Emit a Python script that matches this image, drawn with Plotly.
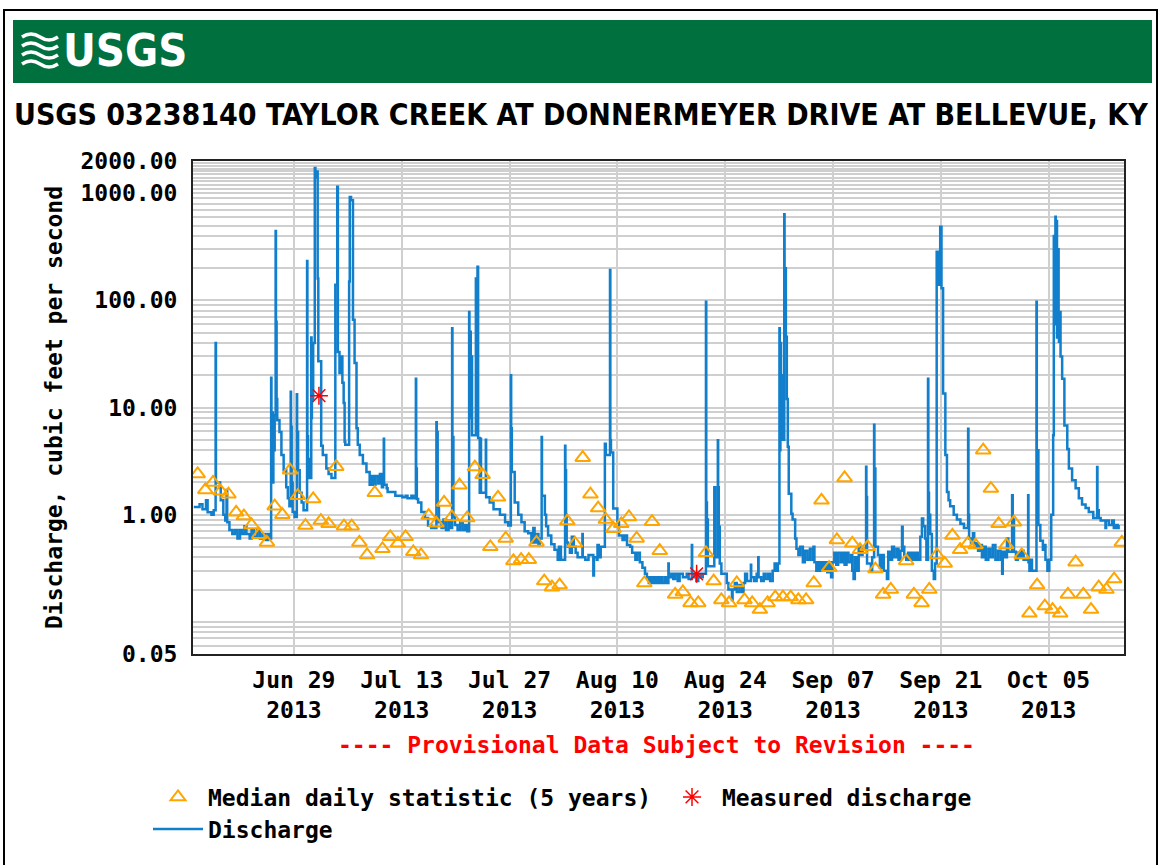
import plotly.graph_objects as go
import pandas as pd

YEAR = "2013"

# Instantaneous discharge, cubic feet per second (time "MM-DD HH:MM", value)
discharge_readings = [
    ("06-16 00:00", 1.18), ("06-16 18:00", 1.25), ("06-17 03:00", 1.12), ("06-17 14:00", 1.36),
    ("06-17 19:00", 1.05), ("06-18 07:00", 1.0), ("06-18 14:00", 1.1), ("06-18 20:00", 40.0),
    ("06-18 21:00", 2.0), ("06-19 10:00", 1.8), ("06-19 12:00", 1.36), ("06-19 20:00", 1.0),
    ("06-20 02:00", 0.88), ("06-20 06:00", 1.7), ("06-20 08:00", 0.85), ("06-20 15:00", 0.72),
    ("06-21 00:00", 0.66), ("06-21 08:00", 0.72), ("06-21 16:00", 0.6), ("06-22 00:00", 0.72),
    ("06-22 06:00", 0.66), ("06-22 14:00", 0.78), ("06-22 20:00", 0.66), ("06-23 06:00", 0.6),
    ("06-23 12:00", 0.72), ("06-23 20:00", 0.62), ("06-24 06:00", 0.72), ("06-24 14:00", 0.6),
    ("06-24 22:00", 0.66), ("06-25 08:00", 0.58), ("06-25 16:00", 0.66), ("06-25 22:00", 0.6),
    ("06-26 01:00", 19.0), ("06-26 02:00", 3.0), ("06-26 04:00", 9.0), ("06-26 06:00", 2.0),
    ("06-26 08:00", 7.0), ("06-26 10:00", 4.0), ("06-26 12:00", 8.5), ("06-26 15:00", 444.0),
    ("06-26 16:00", 63.0), ("06-26 18:00", 12.0), ("06-26 20:00", 7.6), ("06-27 03:00", 5.9),
    ("06-27 09:00", 3.6), ("06-27 16:00", 2.6), ("06-28 00:00", 1.8), ("06-28 05:00", 1.42),
    ("06-28 10:00", 1.2), ("06-28 14:00", 14.0), ("06-28 15:00", 6.6), ("06-28 17:00", 2.0),
    ("06-28 20:00", 1.06), ("06-29 02:00", 0.95), ("06-29 09:00", 13.3), ("06-29 10:00", 5.9),
    ("06-29 13:00", 2.6), ("06-29 18:00", 1.6), ("06-30 00:00", 1.3), ("06-30 06:00", 1.1),
    ("06-30 17:00", 233.0), ("06-30 18:00", 5.4), ("06-30 20:00", 3.3), ("06-30 23:00", 2.2),
    ("07-01 06:00", 45.0), ("07-01 07:00", 8.0), ("07-01 08:00", 31.0), ("07-01 10:00", 12.0),
    ("07-01 12:00", 40.0), ("07-01 17:00", 1720.0), ("07-01 19:00", 1400.0), ("07-01 21:00", 1600.0),
    ("07-02 02:00", 160.0), ("07-02 04:00", 27.0), ("07-02 13:00", 4.4), ("07-02 18:00", 3.6),
    ("07-03 05:00", 2.7), ("07-03 12:00", 2.4), ("07-03 21:00", 2.2), ("07-04 09:00", 140.0),
    ("07-04 15:00", 1150.0), ("07-04 17:00", 33.0), ("07-04 22:00", 21.0), ("07-05 00:00", 30.0),
    ("07-05 07:00", 17.0), ("07-05 11:00", 11.0), ("07-05 14:00", 4.8), ("07-05 16:00", 4.5),
    ("07-06 04:00", 150.0), ("07-06 06:00", 925.0), ("07-06 10:00", 860.0), ("07-06 16:00", 66.0),
    ("07-06 21:00", 26.0), ("07-07 03:00", 6.4), ("07-07 07:00", 4.5), ("07-07 13:00", 3.6),
    ("07-07 23:00", 3.0), ("07-08 10:00", 2.5), ("07-08 20:00", 1.9), ("07-09 02:00", 2.3),
    ("07-09 08:00", 1.9), ("07-09 14:00", 2.3), ("07-09 22:00", 1.95), ("07-10 04:00", 2.4),
    ("07-10 10:00", 1.8), ("07-10 14:00", 2.2), ("07-10 16:00", 5.1), ("07-10 17:00", 1.9),
    ("07-11 01:00", 1.76), ("07-11 04:00", 1.63), ("07-12 04:00", 1.5), ("07-13 02:00", 1.45),
    ("07-13 12:00", 1.5), ("07-13 18:00", 1.42), ("07-14 06:00", 1.5), ("07-14 12:00", 1.42),
    ("07-14 20:00", 18.6), ("07-14 21:00", 2.7), ("07-14 23:00", 1.4), ("07-15 03:00", 1.3),
    ("07-15 13:00", 1.06), ("07-16 00:00", 0.93), ("07-16 10:00", 0.79), ("07-16 20:00", 0.75),
    ("07-17 12:00", 7.3), ("07-17 13:00", 5.9), ("07-17 16:00", 1.2), ("07-17 20:00", 0.85),
    ("07-18 04:00", 0.75), ("07-18 10:00", 0.9), ("07-18 18:00", 0.72), ("07-19 02:00", 0.88),
    ("07-19 08:00", 0.75), ("07-19 13:00", 55.0), ("07-19 14:00", 5.3), ("07-19 17:00", 0.95),
    ("07-19 22:00", 0.8), ("07-20 06:00", 0.72), ("07-20 14:00", 0.85), ("07-20 22:00", 0.72),
    ("07-21 06:00", 0.8), ("07-21 12:00", 0.7), ("07-21 18:00", 78.0), ("07-21 19:00", 10.0),
    ("07-21 21:00", 51.0), ("07-21 23:00", 8.0), ("07-22 01:00", 30.0), ("07-22 03:00", 5.5),
    ("07-22 15:00", 160.0), ("07-22 17:00", 60.0), ("07-22 20:00", 206.0), ("07-22 22:00", 5.2),
    ("07-23 03:00", 1.6), ("07-23 05:00", 5.1), ("07-23 07:00", 1.6), ("07-23 22:00", 5.0),
    ("07-23 23:00", 1.45), ("07-24 10:00", 1.3), ("07-24 22:00", 1.12), ("07-25 18:00", 1.0),
    ("07-26 10:00", 0.85), ("07-26 20:00", 0.79), ("07-27 04:00", 20.0), ("07-27 05:00", 6.4),
    ("07-27 07:00", 2.5), ("07-27 16:00", 1.3), ("07-28 03:00", 1.0), ("07-28 13:00", 0.85),
    ("07-28 23:00", 0.7), ("07-29 10:00", 0.67), ("07-29 20:00", 0.55), ("07-30 02:00", 0.75),
    ("07-30 06:00", 0.55), ("07-30 12:00", 0.66), ("07-30 18:00", 0.52), ("07-30 22:00", 0.6),
    ("07-31 04:00", 5.3), ("07-31 05:00", 1.5), ("07-31 14:00", 1.0), ("07-31 18:00", 0.78),
    ("08-01 00:00", 0.64), ("08-01 10:00", 0.53), ("08-01 20:00", 0.47), ("08-02 06:00", 0.38),
    ("08-02 10:00", 0.5), ("08-02 16:00", 0.38), ("08-03 05:00", 4.4), ("08-03 06:00", 2.6),
    ("08-03 08:00", 1.0), ("08-03 10:00", 0.55), ("08-03 14:00", 0.5), ("08-03 20:00", 0.44),
    ("08-04 02:00", 0.62), ("08-04 08:00", 0.5), ("08-04 14:00", 0.44), ("08-04 20:00", 0.4),
    ("08-05 11:00", 0.66), ("08-05 12:00", 0.4), ("08-05 20:00", 0.38), ("08-06 06:00", 0.42),
    ("08-06 21:00", 0.27), ("08-06 23:00", 0.4), ("08-07 08:00", 0.38), ("08-07 10:00", 0.52),
    ("08-07 14:00", 0.4), ("08-07 20:00", 0.5), ("08-08 09:00", 4.6), ("08-08 12:00", 3.6),
    ("08-09 01:00", 192.0), ("08-09 02:00", 4.95), ("08-09 04:00", 3.8), ("08-09 11:00", 1.14),
    ("08-10 00:00", 0.85), ("08-10 05:00", 0.64), ("08-10 16:00", 0.58), ("08-10 22:00", 0.64),
    ("08-11 06:00", 0.52), ("08-11 16:00", 0.5), ("08-11 22:00", 0.44), ("08-12 08:00", 0.38),
    ("08-12 14:00", 0.44), ("08-12 22:00", 0.36), ("08-13 06:00", 0.32), ("08-13 14:00", 0.28),
    ("08-13 20:00", 0.26), ("08-14 02:00", 0.23), ("08-14 06:00", 0.26), ("08-14 10:00", 0.23),
    ("08-14 16:00", 0.26), ("08-14 20:00", 0.23), ("08-15 02:00", 0.26), ("08-15 08:00", 0.23),
    ("08-15 14:00", 0.26), ("08-15 20:00", 0.23), ("08-16 04:00", 0.26), ("08-16 10:00", 0.23),
    ("08-16 15:00", 0.35), ("08-16 16:00", 0.26), ("08-17 00:00", 0.28), ("08-17 06:00", 0.25),
    ("08-17 12:00", 0.28), ("08-17 20:00", 0.24), ("08-18 02:00", 0.28), ("08-18 12:00", 0.26),
    ("08-19 00:00", 0.28), ("08-19 06:00", 0.25), ("08-19 16:00", 0.52), ("08-19 17:00", 0.28),
    ("08-20 00:00", 0.26), ("08-20 06:00", 0.24), ("08-20 12:00", 0.28), ("08-20 20:00", 0.26),
    ("08-21 02:00", 0.28), ("08-21 12:00", 97.0), ("08-21 13:00", 1.3), ("08-21 15:00", 0.9),
    ("08-21 18:00", 0.33), ("08-22 14:00", 1.8), ("08-22 17:00", 0.4), ("08-23 01:00", 4.95),
    ("08-23 02:00", 1.8), ("08-23 04:00", 0.77), ("08-23 07:00", 0.35), ("08-23 12:00", 0.28),
    ("08-24 05:00", 0.23), ("08-24 10:00", 0.2), ("08-24 21:00", 0.16), ("08-24 23:00", 0.2),
    ("08-25 06:00", 0.23), ("08-25 12:00", 0.19), ("08-25 20:00", 0.22), ("08-26 04:00", 0.19),
    ("08-26 09:00", 0.23), ("08-26 14:00", 0.28), ("08-26 20:00", 0.24), ("08-27 08:00", 0.34),
    ("08-27 09:00", 0.26), ("08-27 18:00", 0.24), ("08-28 02:00", 0.28), ("08-28 07:00", 0.4),
    ("08-28 08:00", 0.26), ("08-28 16:00", 0.24), ("08-29 00:00", 0.28), ("08-29 06:00", 0.25),
    ("08-29 14:00", 0.28), ("08-29 20:00", 0.24), ("08-30 04:00", 0.3), ("08-30 10:00", 0.35),
    ("08-30 16:00", 0.3), ("08-30 20:00", 0.35), ("08-31 01:00", 55.0), ("08-31 02:00", 4.0),
    ("08-31 04:00", 40.0), ("08-31 06:00", 8.0), ("08-31 08:00", 20.0), ("08-31 10:00", 5.0),
    ("08-31 16:00", 637.0), ("08-31 17:00", 200.0), ("08-31 21:00", 45.7), ("09-01 00:00", 12.0),
    ("09-01 03:00", 4.3), ("09-01 06:00", 1.57), ("09-01 14:00", 1.02), ("09-01 18:00", 0.9),
    ("09-02 02:00", 0.6), ("09-02 06:00", 0.48), ("09-02 12:00", 0.42), ("09-02 18:00", 0.5),
    ("09-03 02:00", 0.36), ("09-03 08:00", 0.46), ("09-03 16:00", 0.38), ("09-04 00:00", 0.48),
    ("09-04 08:00", 0.38), ("09-04 11:00", 0.5), ("09-04 14:00", 0.36), ("09-04 20:00", 0.3),
    ("09-05 02:00", 0.36), ("09-05 06:00", 0.3), ("09-05 12:00", 0.36), ("09-05 18:00", 0.3),
    ("09-06 00:00", 0.36), ("09-06 06:00", 0.29), ("09-06 12:00", 0.36), ("09-06 18:00", 0.26),
    ("09-06 22:00", 0.36), ("09-07 04:00", 0.44), ("09-07 10:00", 0.34), ("09-07 16:00", 0.44),
    ("09-08 00:00", 0.36), ("09-08 06:00", 0.44), ("09-08 12:00", 0.34), ("09-08 18:00", 0.44),
    ("09-09 00:00", 0.36), ("09-09 08:00", 0.42), ("09-09 12:00", 0.3), ("09-09 16:00", 0.25),
    ("09-09 20:00", 0.4), ("09-10 02:00", 0.3), ("09-10 08:00", 0.5), ("09-10 14:00", 0.42),
    ("09-10 20:00", 0.48), ("09-11 07:00", 2.8), ("09-11 08:00", 1.46), ("09-11 10:00", 0.35),
    ("09-11 22:00", 0.3), ("09-12 02:00", 0.4), ("09-12 08:00", 6.9), ("09-12 09:00", 2.7),
    ("09-12 12:00", 0.5), ("09-12 20:00", 0.42), ("09-13 02:00", 0.32), ("09-13 08:00", 0.42),
    ("09-13 14:00", 0.3), ("09-14 00:00", 0.25), ("09-14 04:00", 0.45), ("09-14 10:00", 0.38),
    ("09-14 16:00", 0.5), ("09-14 22:00", 0.4), ("09-15 06:00", 0.48), ("09-15 12:00", 0.38),
    ("09-15 18:00", 0.46), ("09-15 23:00", 0.77), ("09-16 01:00", 0.5), ("09-16 06:00", 0.42),
    ("09-16 12:00", 0.38), ("09-16 18:00", 0.44), ("09-17 00:00", 0.38), ("09-17 06:00", 0.44),
    ("09-17 12:00", 0.38), ("09-17 18:00", 0.44), ("09-18 00:00", 0.38), ("09-18 08:00", 0.62),
    ("09-18 13:00", 0.92), ("09-18 17:00", 0.78), ("09-18 23:00", 0.6), ("09-19 03:00", 0.38),
    ("09-19 08:00", 18.6), ("09-19 09:00", 1.6), ("09-19 11:00", 1.0), ("09-19 15:00", 0.66),
    ("09-19 20:00", 0.3), ("09-20 02:00", 0.25), ("09-20 06:00", 0.35), ("09-20 11:00", 285.0),
    ("09-20 15:00", 140.0), ("09-20 22:00", 487.0), ("09-21 02:00", 130.0), ("09-21 07:00", 13.5),
    ("09-21 14:00", 3.6), ("09-21 19:00", 1.63), ("09-22 00:00", 1.36), ("09-22 05:00", 1.2),
    ("09-22 16:00", 1.0), ("09-23 02:00", 0.9), ("09-23 13:00", 0.82), ("09-24 00:00", 0.75),
    ("09-24 13:00", 6.35), ("09-24 14:00", 1.0), ("09-24 16:00", 0.6), ("09-24 22:00", 0.54),
    ("09-25 04:00", 0.67), ("09-25 08:00", 0.5), ("09-25 14:00", 0.54), ("09-25 20:00", 0.46),
    ("09-26 02:00", 0.52), ("09-26 08:00", 0.4), ("09-26 14:00", 0.5), ("09-26 20:00", 0.38),
    ("09-27 04:00", 0.48), ("09-27 10:00", 0.4), ("09-27 18:00", 0.52), ("09-28 02:00", 0.38),
    ("09-28 10:00", 0.46), ("09-28 18:00", 0.38), ("09-28 23:00", 0.28), ("09-29 01:00", 0.45),
    ("09-29 08:00", 0.4), ("09-29 14:00", 0.6), ("09-29 18:00", 0.45), ("09-30 06:00", 1.52),
    ("09-30 08:00", 0.9), ("09-30 12:00", 0.45), ("09-30 18:00", 0.38), ("10-01 00:00", 0.44),
    ("10-01 06:00", 0.4), ("10-01 12:00", 0.46), ("10-01 18:00", 0.38), ("10-02 08:00", 1.52),
    ("10-02 09:00", 0.36), ("10-02 12:00", 0.3), ("10-02 16:00", 0.38), ("10-02 20:00", 0.3),
    ("10-03 10:00", 97.0), ("10-03 11:00", 4.0), ("10-03 13:00", 1.2), ("10-03 14:00", 4.0),
    ("10-03 16:00", 0.8), ("10-03 22:00", 0.57), ("10-04 06:00", 0.47), ("10-04 12:00", 0.52),
    ("10-04 14:00", 0.38), ("10-04 20:00", 0.3), ("10-05 02:00", 0.38), ("10-05 08:00", 1.0),
    ("10-05 14:00", 5.5), ("10-05 16:00", 400.0), ("10-05 21:00", 604.0), ("10-05 22:00", 60.0),
    ("10-06 00:00", 550.0), ("10-06 02:00", 45.0), ("10-06 03:00", 300.0), ("10-06 07:00", 78.0),
    ("10-06 08:00", 41.0), ("10-06 12:00", 78.0), ("10-06 13:00", 30.0), ("10-06 18:00", 18.6),
    ("10-07 01:00", 6.8), ("10-07 10:00", 4.1), ("10-07 15:00", 2.7), ("10-08 01:00", 2.09),
    ("10-08 12:00", 1.76), ("10-08 22:00", 1.42), ("10-09 08:00", 1.24), ("10-09 19:00", 1.15),
    ("10-10 05:00", 1.06), ("10-10 19:00", 0.93), ("10-11 07:00", 2.78), ("10-11 08:00", 1.1),
    ("10-11 12:00", 0.93), ("10-11 18:00", 0.88), ("10-12 09:00", 0.75), ("10-12 11:00", 0.88),
    ("10-12 20:00", 0.8), ("10-13 06:00", 0.88), ("10-13 11:00", 0.75), ("10-13 14:00", 0.8),
    ("10-13 20:00", 0.75), ("10-14 02:00", 0.8), ("10-14 03:00", 0.8),
]

# Median daily statistic (5 years), one value per day from Jun 16 to Oct 14
median_first_day = "06-16"
median_daily_cfs = [
    2.4, 1.7, 2.0, 1.65, 1.55, 1.05, 0.97, 0.8, 0.65, 0.55,            # Jun 16-25
    1.2, 1.0, 2.6, 1.5, 0.79,                                          # Jun 26-30
    1.4, 0.88, 0.82, 2.8, 0.78, 0.78, 0.55, 0.42, 1.6, 0.48,           # Jul 1-10
    0.62, 0.54, 0.62, 0.45, 0.42, 0.98, 0.83, 1.3, 0.95, 1.88,         # Jul 11-20
    0.93, 2.78, 2.35, 0.5, 1.45, 0.6, 0.37, 0.38, 0.38, 0.55, 0.24,    # Jul 21-31
    0.21, 0.22, 0.87, 0.54, 3.4, 1.55, 1.15, 0.9, 0.74, 0.82,          # Aug 1-10
    0.95, 0.6, 0.23, 0.86, 0.46, None, 0.18, 0.19, 0.15, 0.15,         # Aug 11-20
    0.44, 0.24, 0.16, 0.15, 0.23, 0.16, 0.15, 0.13, 0.15, 0.17, 0.17,  # Aug 21-31
    0.17, 0.16, 0.16, 0.23, 1.36, 0.32, 0.58, 2.2, 0.54, 0.47,         # Sep 1-10
    0.5, 0.31, 0.18, 0.2, None, 0.37, 0.18, 0.15, 0.2, 0.42,           # Sep 11-20
    0.35, 0.64, 0.47, 0.54, 0.52, 4.0, 1.75, 0.82, 0.52, 0.85,         # Sep 21-30
    0.42, 0.12, 0.22, 0.14, 0.13, 0.12, 0.18, 0.36, 0.18, 0.13,        # Oct 1-10
    0.21, 0.2, 0.25, 0.55,                                             # Oct 11-14
]

# Field measurements of discharge
measured_times = ["07-02 06:00", "08-20 07:00"]
measured_cfs = [12.9, 0.28]

# Axis ticks
x_tick_dates = ["06-29", "07-13", "07-27", "08-10", "08-24", "09-07", "09-21", "10-05"]
x_tick_labels = ["Jun 29", "Jul 13", "Jul 27", "Aug 10", "Aug 24", "Sep 07", "Sep 21", "Oct 05"]
y_tick_vals = [0.05, 1, 10, 100, 1000, 2000]
y_tick_text = ["0.05", "1.00", "10.00", "100.00", "1000.00", "2000.00"]

# ---------------------------------------------------------------- layout geometry (px)
W, H = 1160, 865
ML, MR, MT, MB = 193, 36, 161, 211
PW, PH = W - ML - MR, H - MT - MB


def px(x):
    return (x - ML) / PW


def py(y):
    return (H - MB - y) / PH


MONO = "DejaVu Sans Mono"
NARROW = "DejaVu Sans Condensed, Liberation Sans Narrow, Roboto, sans-serif"
LINE_BLUE = "#127fcc"
ORANGE = "#FFA500"
GRID = "#cfcfcf"

q_time = [f"{YEAR}-{t}" for t, _ in discharge_readings]
q_val = [v for _, v in discharge_readings]

median_dates = pd.date_range(f"{YEAR}-{median_first_day} 12:00", periods=len(median_daily_cfs), freq="D")

fig = go.Figure()

fig.add_trace(go.Scatter(
    x=q_time, y=q_val, mode="lines", name="Discharge",
    line=dict(color=LINE_BLUE, width=2.5, shape="hv"),
    legend="legend3", hoverinfo="skip",
))
fig.add_trace(go.Scatter(
    x=median_dates, y=median_daily_cfs, mode="markers", name="Median daily statistic (5 years)",
    marker=dict(symbol="triangle-up-open", size=13, color=ORANGE, line=dict(color=ORANGE, width=2)),
    legend="legend",
))
fig.add_trace(go.Scatter(
    x=[f"{YEAR}-{t}" for t in measured_times], y=measured_cfs, mode="markers",
    name="Measured discharge",
    marker=dict(symbol="asterisk-open", size=15, color="red", line=dict(color="red", width=1.5)),
    legend="legend2",
))

# grid at every 1..9 step of each decade, plus 100-steps in the top partial decade
minor_vals = []
for dec in [0.01, 0.1, 1, 10, 100]:
    for k in range(1, 10):
        v = round(k * dec, 6)
        if 0.05 < v < 2000 and v not in y_tick_vals:
            minor_vals.append(v)
minor_vals += [1000 + 100 * k for k in range(1, 10)]

legend_font = dict(family=MONO, size=23, color="black", weight="bold")
legend_common = dict(orientation="h", bgcolor="rgba(0,0,0,0)", borderwidth=0,
                     font=legend_font, itemwidth=50, xanchor="left", yanchor="middle",
                     itemclick=False, itemdoubleclick=False)

shapes = [
    # outer frame
    dict(type="rect", xref="paper", yref="paper", x0=px(4), x1=px(1157), y0=py(900), y1=py(10),
         line=dict(color="black", width=2), fillcolor="rgba(0,0,0,0)", layer="below"),
    # green banner
    dict(type="rect", xref="paper", yref="paper", x0=px(13), x1=px(1152), y0=py(83), y1=py(20),
         line=dict(width=0), fillcolor="#00703F", layer="below"),
]
# wave emblem in the banner
for i in range(4):
    yb = 37 + 9 * i
    x0 = 22
    pts = f"M{px(x0)},{py(yb)} Q{px(x0 + 9)},{py(yb - 6)} {px(x0 + 18)},{py(yb)} T{px(x0 + 36)},{py(yb)}"
    shapes.append(dict(type="path", xref="paper", yref="paper", path=pts,
                       line=dict(color="white", width=3.5)))

annotations = [
    dict(text="USGS", x=px(61), y=py(51), xref="paper", yref="paper", xanchor="left", yanchor="middle",
         showarrow=False, font=dict(family=NARROW, size=45, color="white", weight="bold")),
    dict(text="USGS 03238140 TAYLOR CREEK AT DONNERMEYER DRIVE AT BELLEVUE, KY",
         x=px(581), y=py(114), xref="paper", yref="paper", xanchor="center", yanchor="middle",
         showarrow=False, font=dict(family=NARROW, size=30, color="black", weight="bold")),
    dict(text="---- Provisional Data Subject to Revision ----",
         x=px(656), y=py(745), xref="paper", yref="paper", xanchor="center", yanchor="middle",
         showarrow=False, font=dict(family=MONO, size=23, color="red", weight="bold")),
]

fig.update_layout(
    width=W, height=H,
    margin=dict(l=ML, r=MR, t=MT, b=MB, autoexpand=False),
    paper_bgcolor="white", plot_bgcolor="white",
    showlegend=True,
    legend=dict(x=px(148), y=py(797), **legend_common),
    legend2=dict(x=px(662), y=py(797), **legend_common),
    legend3=dict(x=px(148), y=py(829), **legend_common),
    shapes=shapes, annotations=annotations,
    xaxis=dict(
        type="date", range=[f"{YEAR}-06-15 21:30", f"{YEAR}-10-14 18:45"],
        tickmode="array", tickvals=[f"{YEAR}-{d}" for d in x_tick_dates],
        ticktext=[f"{t}<br>{YEAR}" for t in x_tick_labels],
        showgrid=True, gridcolor=GRID, gridwidth=2, ticks="", ticklabelstandoff=4,
        tickfont=dict(family=MONO, size=23, color="black", weight="bold"),
        showline=True, linecolor="#222", linewidth=2, mirror=True, zeroline=False,
    ),
    yaxis=dict(
        type="log", range=[-1.30103, 3.30103],
        tickmode="array", tickvals=y_tick_vals, ticktext=y_tick_text,
        showgrid=True, gridcolor=GRID, gridwidth=2, ticks="", ticklabelstandoff=9,
        minor=dict(tickmode="array", tickvals=minor_vals, showgrid=True, gridcolor=GRID, gridwidth=2, ticks=""),
        tickfont=dict(family=MONO, size=23, color="black", weight="bold"),
        showline=True, linecolor="#222", linewidth=2, mirror=True, zeroline=False,
        title=dict(text="Discharge, cubic feet per second", standoff=11,
                   font=dict(family=MONO, size=23, color="black", weight="bold")),
    ),
)

fig.write_html("out.html", config={"displayModeBar": False})
